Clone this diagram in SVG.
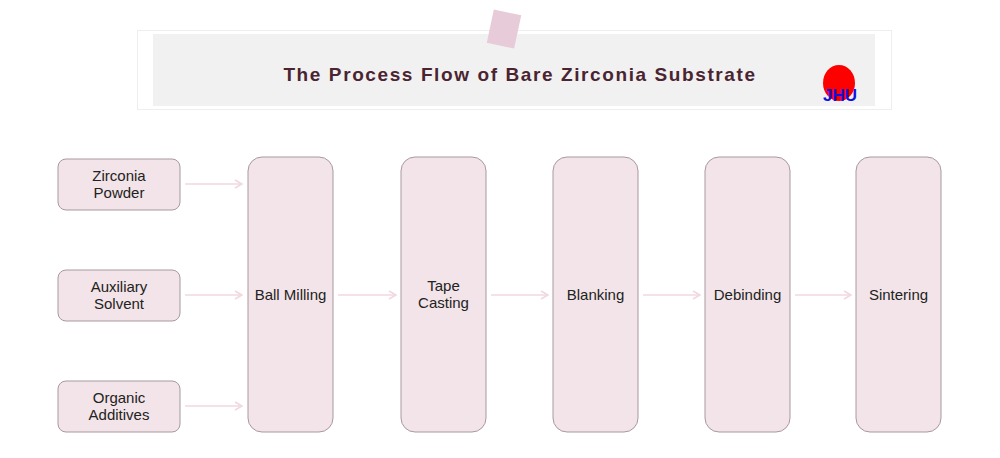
<svg xmlns="http://www.w3.org/2000/svg" width="1000" height="458" viewBox="0 0 1000 458">
<style>
.n{fill:#f2e4e8;stroke:#a8999e;stroke-width:1}
.t{font-family:"Liberation Sans",Arial,sans-serif;font-size:15px;fill:#222;text-anchor:middle}
.c{stroke:#f0d8de;stroke-width:1.5;fill:none;marker-end:url(#a)}
</style>
<defs><marker id="a" markerWidth="10" markerHeight="10" refX="8" refY="5" orient="auto" markerUnits="userSpaceOnUse"><path d="M1,1 L8,5 L1,9" fill="none" stroke="#f0d8de" stroke-width="1.5"/></marker></defs>
<rect width="1000" height="458" fill="#fff"/>
<g id="title">
<rect x="137.5" y="30.5" width="754" height="79" fill="#fff" stroke="#eee"/>
<rect x="153" y="34" width="722" height="72" fill="#f1f1f1"/>
<rect x="490" y="12" width="28" height="34" fill="#e8cbd8" transform="rotate(12 504 29)"/>
<text x="520" y="81" font-family="Liberation Sans,Arial,sans-serif" font-size="19" font-weight="bold" letter-spacing="1.6" fill="#4a2430" text-anchor="middle">The Process Flow of Bare Zirconia Substrate</text>
<ellipse cx="839" cy="83" rx="16" ry="18" fill="#f00"/>
<text x="840" y="101" font-family="Liberation Sans,Arial,sans-serif" font-size="17" font-weight="bold" fill="#1010e0" text-anchor="middle">JHU</text>
</g>
<g id="connectors">
<path class="c" d="M185 184H242"/><path class="c" d="M185 295H242"/><path class="c" d="M185 406H242"/>
<path class="c" d="M338 295H396"/><path class="c" d="M491 295H548"/><path class="c" d="M643 295H700"/><path class="c" d="M795 295H851"/>
</g>
<g id="n1"><rect class="n" x="58" y="159" width="122" height="51" rx="8"/><text class="t" x="119" y="181">Zirconia</text><text class="t" x="119" y="198">Powder</text></g>
<g id="n2"><rect class="n" x="58" y="270" width="122" height="51" rx="8"/><text class="t" x="119" y="292">Auxiliary</text><text class="t" x="119" y="309">Solvent</text></g>
<g id="n3"><rect class="n" x="58" y="381" width="122" height="51" rx="8"/><text class="t" x="119" y="403">Organic</text><text class="t" x="119" y="420">Additives</text></g>
<g id="n4"><rect class="n" x="248" y="157" width="85" height="275" rx="14"/><text class="t" x="290.5" y="300">Ball Milling</text></g>
<g id="n5"><rect class="n" x="401" y="157" width="85" height="275" rx="14"/><text class="t" x="443.5" y="291">Tape</text><text class="t" x="443.5" y="308">Casting</text></g>
<g id="n6"><rect class="n" x="553" y="157" width="85" height="275" rx="14"/><text class="t" x="595.5" y="300">Blanking</text></g>
<g id="n7"><rect class="n" x="705" y="157" width="85" height="275" rx="14"/><text class="t" x="747.5" y="300">Debinding</text></g>
<g id="n8"><rect class="n" x="856" y="157" width="85" height="275" rx="14"/><text class="t" x="898.5" y="300">Sintering</text></g>
</svg>
